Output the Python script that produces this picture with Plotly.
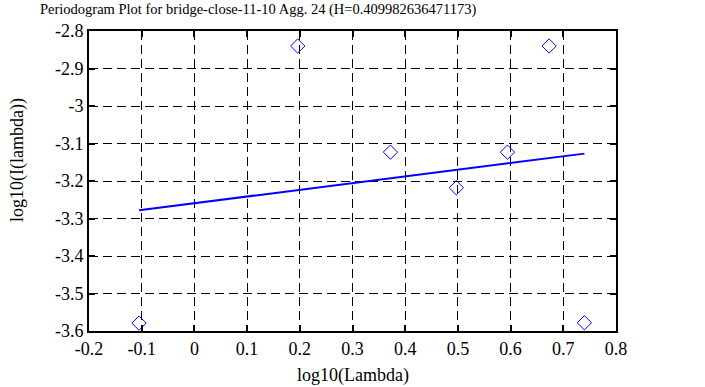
import plotly.graph_objects as go

# Data
point_x = [-0.105, 0.196, 0.372, 0.497, 0.594, 0.673, 0.740]
point_y = [-3.579, -2.840, -3.123, -3.218, -3.123, -2.840, -3.578]
fit_x = [-0.105, 0.740]
fit_y = [-3.278, -3.127]
x_ticks = [-0.2, -0.1, 0, 0.1, 0.2, 0.3, 0.4, 0.5, 0.6, 0.7, 0.8]
y_ticks = [-3.6, -3.5, -3.4, -3.3, -3.2, -3.1, -3.0, -2.9, -2.8]
x_tick_text = ["-0.2", "-0.1", "0", "0.1", "0.2", "0.3", "0.4", "0.5", "0.6", "0.7", "0.8"]
y_tick_text = ["-3.6", "-3.5", "-3.4", "-3.3", "-3.2", "-3.1", "-3", "-2.9", "-2.8"]
title = "Periodogram Plot for bridge-close-11-10 Agg. 24 (H=0.409982636471173)"
x_title = "log10(Lambda)"
y_title = "log10(I(lambda))"

FONT = "Liberation Serif"
BLUE = "#0000ff"

W, H = 705, 387
L, R, T, B = 89, 89, 31, 56
PW, PH = W - L - R, H - T - B

fig = go.Figure()
fig.add_trace(go.Scatter(x=point_x, y=point_y, mode="markers",
                         marker=dict(symbol="diamond-open", size=11, color=BLUE,
                                     line=dict(width=1, color=BLUE)),
                         showlegend=False))
fig.add_trace(go.Scatter(x=fit_x, y=fit_y, mode="lines",
                         line=dict(color=BLUE, width=2), showlegend=False))

axis_common = dict(showline=True, linecolor="black", linewidth=2, mirror="ticks",
                   ticks="inside", ticklen=6, tickwidth=2, tickcolor="black",
                   showgrid=True, gridcolor="black", gridwidth=1, griddash="9px,5px",
                   zeroline=False, tickfont=dict(family=FONT, size=18, color="black"))

fig.update_xaxes(range=[-0.2, 0.8], tickvals=x_ticks, ticktext=x_tick_text, **axis_common)
fig.update_yaxes(range=[-3.6, -2.8], tickvals=y_ticks, ticktext=y_tick_text, **axis_common)

fig.update_layout(
    width=W, height=H,
    margin=dict(l=L, r=R, t=T, b=B),
    plot_bgcolor="white", paper_bgcolor="white",
    font=dict(family=FONT, size=18, color="black"),
    annotations=[
        dict(text=title, x=(38 - L) / PW, y=1 + (T - 10) / PH, xref="paper", yref="paper",
             xanchor="left", yanchor="middle", showarrow=False,
             font=dict(family=FONT, size=14.5, color="black")),
        dict(text=x_title, x=0.5, y=-(363 - (H - B)) / PH, xref="paper", yref="paper",
             xanchor="center", yanchor="top", showarrow=False,
             font=dict(family=FONT, size=18)),
        dict(text=y_title, x=(18 - L) / PW, y=1 - (160 - T) / PH, xref="paper", yref="paper",
             xanchor="center", yanchor="middle", showarrow=False, textangle=-90,
             font=dict(family=FONT, size=18)),
    ],
)

fig.write_html("out.html", config={"displayModeBar": False},
               post_script="document.body.style.margin='0';")
